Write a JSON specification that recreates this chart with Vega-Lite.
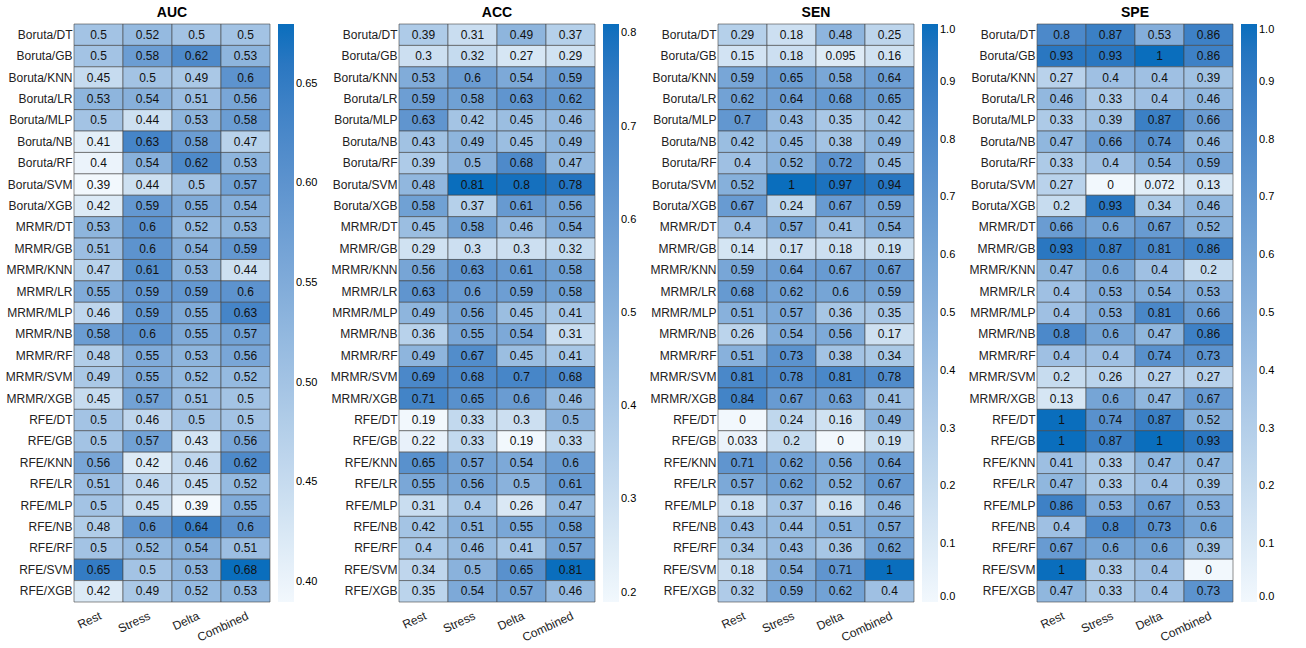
{
  "$schema": "https://vega.github.io/schema/vega-lite/v6.json",
  "padding": {"left": 5, "top": 5, "right": 5, "bottom": 0},
  "config": {
    "font": "Liberation Sans",
    "view": {"stroke": null},
    "axis": {"labelFontSize": 12, "labelColor": "#222", "domain": false, "ticks": false, "title": null},
    "title": {"fontSize": 14, "fontWeight": "bold", "offset": 4},
    "legend": {"gradientLength": 578, "gradientThickness": 16, "labelFontSize": 11, "title": null, "offset": 8, "gradientStrokeColor": "#555", "format": "~g"},
    "concat": {"spacing": 12}
  },
  "datasets": {
    "t": [
      {"model":"Boruta/DT","f":"Rest","AUC":0.5,"ACC":0.39,"SEN":0.29,"SPE":0.8},
      {"model":"Boruta/DT","f":"Stress","AUC":0.52,"ACC":0.31,"SEN":0.18,"SPE":0.87},
      {"model":"Boruta/DT","f":"Delta","AUC":0.5,"ACC":0.49,"SEN":0.48,"SPE":0.53},
      {"model":"Boruta/DT","f":"Combined","AUC":0.5,"ACC":0.37,"SEN":0.25,"SPE":0.86},
      {"model":"Boruta/GB","f":"Rest","AUC":0.5,"ACC":0.3,"SEN":0.15,"SPE":0.93},
      {"model":"Boruta/GB","f":"Stress","AUC":0.58,"ACC":0.32,"SEN":0.18,"SPE":0.93},
      {"model":"Boruta/GB","f":"Delta","AUC":0.62,"ACC":0.27,"SEN":0.095,"SPE":1},
      {"model":"Boruta/GB","f":"Combined","AUC":0.53,"ACC":0.29,"SEN":0.16,"SPE":0.86},
      {"model":"Boruta/KNN","f":"Rest","AUC":0.45,"ACC":0.53,"SEN":0.59,"SPE":0.27},
      {"model":"Boruta/KNN","f":"Stress","AUC":0.5,"ACC":0.6,"SEN":0.65,"SPE":0.4},
      {"model":"Boruta/KNN","f":"Delta","AUC":0.49,"ACC":0.54,"SEN":0.58,"SPE":0.4},
      {"model":"Boruta/KNN","f":"Combined","AUC":0.6,"ACC":0.59,"SEN":0.64,"SPE":0.39},
      {"model":"Boruta/LR","f":"Rest","AUC":0.53,"ACC":0.59,"SEN":0.62,"SPE":0.46},
      {"model":"Boruta/LR","f":"Stress","AUC":0.54,"ACC":0.58,"SEN":0.64,"SPE":0.33},
      {"model":"Boruta/LR","f":"Delta","AUC":0.51,"ACC":0.63,"SEN":0.68,"SPE":0.4},
      {"model":"Boruta/LR","f":"Combined","AUC":0.56,"ACC":0.62,"SEN":0.65,"SPE":0.46},
      {"model":"Boruta/MLP","f":"Rest","AUC":0.5,"ACC":0.63,"SEN":0.7,"SPE":0.33},
      {"model":"Boruta/MLP","f":"Stress","AUC":0.44,"ACC":0.42,"SEN":0.43,"SPE":0.39},
      {"model":"Boruta/MLP","f":"Delta","AUC":0.53,"ACC":0.45,"SEN":0.35,"SPE":0.87},
      {"model":"Boruta/MLP","f":"Combined","AUC":0.58,"ACC":0.46,"SEN":0.42,"SPE":0.66},
      {"model":"Boruta/NB","f":"Rest","AUC":0.41,"ACC":0.43,"SEN":0.42,"SPE":0.47},
      {"model":"Boruta/NB","f":"Stress","AUC":0.63,"ACC":0.49,"SEN":0.45,"SPE":0.66},
      {"model":"Boruta/NB","f":"Delta","AUC":0.58,"ACC":0.45,"SEN":0.38,"SPE":0.74},
      {"model":"Boruta/NB","f":"Combined","AUC":0.47,"ACC":0.49,"SEN":0.49,"SPE":0.46},
      {"model":"Boruta/RF","f":"Rest","AUC":0.4,"ACC":0.39,"SEN":0.4,"SPE":0.33},
      {"model":"Boruta/RF","f":"Stress","AUC":0.54,"ACC":0.5,"SEN":0.52,"SPE":0.4},
      {"model":"Boruta/RF","f":"Delta","AUC":0.62,"ACC":0.68,"SEN":0.72,"SPE":0.54},
      {"model":"Boruta/RF","f":"Combined","AUC":0.53,"ACC":0.47,"SEN":0.45,"SPE":0.59},
      {"model":"Boruta/SVM","f":"Rest","AUC":0.39,"ACC":0.48,"SEN":0.52,"SPE":0.27},
      {"model":"Boruta/SVM","f":"Stress","AUC":0.44,"ACC":0.81,"SEN":1,"SPE":0},
      {"model":"Boruta/SVM","f":"Delta","AUC":0.5,"ACC":0.8,"SEN":0.97,"SPE":0.072},
      {"model":"Boruta/SVM","f":"Combined","AUC":0.57,"ACC":0.78,"SEN":0.94,"SPE":0.13},
      {"model":"Boruta/XGB","f":"Rest","AUC":0.42,"ACC":0.58,"SEN":0.67,"SPE":0.2},
      {"model":"Boruta/XGB","f":"Stress","AUC":0.59,"ACC":0.37,"SEN":0.24,"SPE":0.93},
      {"model":"Boruta/XGB","f":"Delta","AUC":0.55,"ACC":0.61,"SEN":0.67,"SPE":0.34},
      {"model":"Boruta/XGB","f":"Combined","AUC":0.54,"ACC":0.56,"SEN":0.59,"SPE":0.46},
      {"model":"MRMR/DT","f":"Rest","AUC":0.53,"ACC":0.45,"SEN":0.4,"SPE":0.66},
      {"model":"MRMR/DT","f":"Stress","AUC":0.6,"ACC":0.58,"SEN":0.57,"SPE":0.6},
      {"model":"MRMR/DT","f":"Delta","AUC":0.52,"ACC":0.46,"SEN":0.41,"SPE":0.67},
      {"model":"MRMR/DT","f":"Combined","AUC":0.53,"ACC":0.54,"SEN":0.54,"SPE":0.52},
      {"model":"MRMR/GB","f":"Rest","AUC":0.51,"ACC":0.29,"SEN":0.14,"SPE":0.93},
      {"model":"MRMR/GB","f":"Stress","AUC":0.6,"ACC":0.3,"SEN":0.17,"SPE":0.87},
      {"model":"MRMR/GB","f":"Delta","AUC":0.54,"ACC":0.3,"SEN":0.18,"SPE":0.81},
      {"model":"MRMR/GB","f":"Combined","AUC":0.59,"ACC":0.32,"SEN":0.19,"SPE":0.86},
      {"model":"MRMR/KNN","f":"Rest","AUC":0.47,"ACC":0.56,"SEN":0.59,"SPE":0.47},
      {"model":"MRMR/KNN","f":"Stress","AUC":0.61,"ACC":0.63,"SEN":0.64,"SPE":0.6},
      {"model":"MRMR/KNN","f":"Delta","AUC":0.53,"ACC":0.61,"SEN":0.67,"SPE":0.4},
      {"model":"MRMR/KNN","f":"Combined","AUC":0.44,"ACC":0.58,"SEN":0.67,"SPE":0.2},
      {"model":"MRMR/LR","f":"Rest","AUC":0.55,"ACC":0.63,"SEN":0.68,"SPE":0.4},
      {"model":"MRMR/LR","f":"Stress","AUC":0.59,"ACC":0.6,"SEN":0.62,"SPE":0.53},
      {"model":"MRMR/LR","f":"Delta","AUC":0.59,"ACC":0.59,"SEN":0.6,"SPE":0.54},
      {"model":"MRMR/LR","f":"Combined","AUC":0.6,"ACC":0.58,"SEN":0.59,"SPE":0.53},
      {"model":"MRMR/MLP","f":"Rest","AUC":0.46,"ACC":0.49,"SEN":0.51,"SPE":0.4},
      {"model":"MRMR/MLP","f":"Stress","AUC":0.59,"ACC":0.56,"SEN":0.57,"SPE":0.53},
      {"model":"MRMR/MLP","f":"Delta","AUC":0.55,"ACC":0.45,"SEN":0.36,"SPE":0.81},
      {"model":"MRMR/MLP","f":"Combined","AUC":0.63,"ACC":0.41,"SEN":0.35,"SPE":0.66},
      {"model":"MRMR/NB","f":"Rest","AUC":0.58,"ACC":0.36,"SEN":0.26,"SPE":0.8},
      {"model":"MRMR/NB","f":"Stress","AUC":0.6,"ACC":0.55,"SEN":0.54,"SPE":0.6},
      {"model":"MRMR/NB","f":"Delta","AUC":0.55,"ACC":0.54,"SEN":0.56,"SPE":0.47},
      {"model":"MRMR/NB","f":"Combined","AUC":0.57,"ACC":0.31,"SEN":0.17,"SPE":0.86},
      {"model":"MRMR/RF","f":"Rest","AUC":0.48,"ACC":0.49,"SEN":0.51,"SPE":0.4},
      {"model":"MRMR/RF","f":"Stress","AUC":0.55,"ACC":0.67,"SEN":0.73,"SPE":0.4},
      {"model":"MRMR/RF","f":"Delta","AUC":0.53,"ACC":0.45,"SEN":0.38,"SPE":0.74},
      {"model":"MRMR/RF","f":"Combined","AUC":0.56,"ACC":0.41,"SEN":0.34,"SPE":0.73},
      {"model":"MRMR/SVM","f":"Rest","AUC":0.49,"ACC":0.69,"SEN":0.81,"SPE":0.2},
      {"model":"MRMR/SVM","f":"Stress","AUC":0.55,"ACC":0.68,"SEN":0.78,"SPE":0.26},
      {"model":"MRMR/SVM","f":"Delta","AUC":0.52,"ACC":0.7,"SEN":0.81,"SPE":0.27},
      {"model":"MRMR/SVM","f":"Combined","AUC":0.52,"ACC":0.68,"SEN":0.78,"SPE":0.27},
      {"model":"MRMR/XGB","f":"Rest","AUC":0.45,"ACC":0.71,"SEN":0.84,"SPE":0.13},
      {"model":"MRMR/XGB","f":"Stress","AUC":0.57,"ACC":0.65,"SEN":0.67,"SPE":0.6},
      {"model":"MRMR/XGB","f":"Delta","AUC":0.51,"ACC":0.6,"SEN":0.63,"SPE":0.47},
      {"model":"MRMR/XGB","f":"Combined","AUC":0.5,"ACC":0.46,"SEN":0.41,"SPE":0.67},
      {"model":"RFE/DT","f":"Rest","AUC":0.5,"ACC":0.19,"SEN":0,"SPE":1},
      {"model":"RFE/DT","f":"Stress","AUC":0.46,"ACC":0.33,"SEN":0.24,"SPE":0.74},
      {"model":"RFE/DT","f":"Delta","AUC":0.5,"ACC":0.3,"SEN":0.16,"SPE":0.87},
      {"model":"RFE/DT","f":"Combined","AUC":0.5,"ACC":0.5,"SEN":0.49,"SPE":0.52},
      {"model":"RFE/GB","f":"Rest","AUC":0.5,"ACC":0.22,"SEN":0.033,"SPE":1},
      {"model":"RFE/GB","f":"Stress","AUC":0.57,"ACC":0.33,"SEN":0.2,"SPE":0.87},
      {"model":"RFE/GB","f":"Delta","AUC":0.43,"ACC":0.19,"SEN":0,"SPE":1},
      {"model":"RFE/GB","f":"Combined","AUC":0.56,"ACC":0.33,"SEN":0.19,"SPE":0.93},
      {"model":"RFE/KNN","f":"Rest","AUC":0.56,"ACC":0.65,"SEN":0.71,"SPE":0.41},
      {"model":"RFE/KNN","f":"Stress","AUC":0.42,"ACC":0.57,"SEN":0.62,"SPE":0.33},
      {"model":"RFE/KNN","f":"Delta","AUC":0.46,"ACC":0.54,"SEN":0.56,"SPE":0.47},
      {"model":"RFE/KNN","f":"Combined","AUC":0.62,"ACC":0.6,"SEN":0.64,"SPE":0.47},
      {"model":"RFE/LR","f":"Rest","AUC":0.51,"ACC":0.55,"SEN":0.57,"SPE":0.47},
      {"model":"RFE/LR","f":"Stress","AUC":0.46,"ACC":0.56,"SEN":0.62,"SPE":0.33},
      {"model":"RFE/LR","f":"Delta","AUC":0.45,"ACC":0.5,"SEN":0.52,"SPE":0.4},
      {"model":"RFE/LR","f":"Combined","AUC":0.52,"ACC":0.61,"SEN":0.67,"SPE":0.39},
      {"model":"RFE/MLP","f":"Rest","AUC":0.5,"ACC":0.31,"SEN":0.18,"SPE":0.86},
      {"model":"RFE/MLP","f":"Stress","AUC":0.45,"ACC":0.4,"SEN":0.37,"SPE":0.53},
      {"model":"RFE/MLP","f":"Delta","AUC":0.39,"ACC":0.26,"SEN":0.16,"SPE":0.67},
      {"model":"RFE/MLP","f":"Combined","AUC":0.55,"ACC":0.47,"SEN":0.46,"SPE":0.53},
      {"model":"RFE/NB","f":"Rest","AUC":0.48,"ACC":0.42,"SEN":0.43,"SPE":0.4},
      {"model":"RFE/NB","f":"Stress","AUC":0.6,"ACC":0.51,"SEN":0.44,"SPE":0.8},
      {"model":"RFE/NB","f":"Delta","AUC":0.64,"ACC":0.55,"SEN":0.51,"SPE":0.73},
      {"model":"RFE/NB","f":"Combined","AUC":0.6,"ACC":0.58,"SEN":0.57,"SPE":0.6},
      {"model":"RFE/RF","f":"Rest","AUC":0.5,"ACC":0.4,"SEN":0.34,"SPE":0.67},
      {"model":"RFE/RF","f":"Stress","AUC":0.52,"ACC":0.46,"SEN":0.43,"SPE":0.6},
      {"model":"RFE/RF","f":"Delta","AUC":0.54,"ACC":0.41,"SEN":0.36,"SPE":0.6},
      {"model":"RFE/RF","f":"Combined","AUC":0.51,"ACC":0.57,"SEN":0.62,"SPE":0.39},
      {"model":"RFE/SVM","f":"Rest","AUC":0.65,"ACC":0.34,"SEN":0.18,"SPE":1},
      {"model":"RFE/SVM","f":"Stress","AUC":0.5,"ACC":0.5,"SEN":0.54,"SPE":0.33},
      {"model":"RFE/SVM","f":"Delta","AUC":0.53,"ACC":0.65,"SEN":0.71,"SPE":0.4},
      {"model":"RFE/SVM","f":"Combined","AUC":0.68,"ACC":0.81,"SEN":1,"SPE":0},
      {"model":"RFE/XGB","f":"Rest","AUC":0.42,"ACC":0.35,"SEN":0.32,"SPE":0.47},
      {"model":"RFE/XGB","f":"Stress","AUC":0.49,"ACC":0.54,"SEN":0.59,"SPE":0.33},
      {"model":"RFE/XGB","f":"Delta","AUC":0.52,"ACC":0.57,"SEN":0.62,"SPE":0.4},
      {"model":"RFE/XGB","f":"Combined","AUC":0.53,"ACC":0.46,"SEN":0.4,"SPE":0.73}
    ]
  },
  "data": {"name": "t"},
  "resolve": {"scale": {"color": "independent"}},
  "hconcat": [
    {
      "title": "AUC", "width": 196, "height": 578,
      "encoding": {
        "x": {"field": "f", "type": "nominal", "sort": ["Rest","Stress","Delta","Combined"], "axis": {"labelAngle": -25, "labelAlign": "right", "labelPadding": 8}},
        "y": {"field": "model", "type": "nominal", "sort": null}
      },
      "layer": [
        {"mark": {"type": "rect", "stroke": "#444", "strokeWidth": 0.6}, "encoding": {"color": {"field": "AUC", "type": "quantitative", "scale": {"range": ["#f2f8fd", "#0a6ebd"]}, "legend": {"tickCount": 7}}}},
        {"mark": {"type": "text", "fontSize": 12, "color": "#111"}, "encoding": {"text": {"field": "AUC", "type": "nominal"}}}
      ]
    },
    {
      "title": "ACC", "width": 196, "height": 578,
      "encoding": {
        "x": {"field": "f", "type": "nominal", "sort": ["Rest","Stress","Delta","Combined"], "axis": {"labelAngle": -25, "labelAlign": "right", "labelPadding": 8}},
        "y": {"field": "model", "type": "nominal", "sort": null}
      },
      "layer": [
        {"mark": {"type": "rect", "stroke": "#444", "strokeWidth": 0.6}, "encoding": {"color": {"field": "ACC", "type": "quantitative", "scale": {"range": ["#f2f8fd", "#0a6ebd"]}, "legend": {"tickCount": 7}}}},
        {"mark": {"type": "text", "fontSize": 12, "color": "#111"}, "encoding": {"text": {"field": "ACC", "type": "nominal"}}}
      ]
    },
    {
      "title": "SEN", "width": 196, "height": 578,
      "encoding": {
        "x": {"field": "f", "type": "nominal", "sort": ["Rest","Stress","Delta","Combined"], "axis": {"labelAngle": -25, "labelAlign": "right", "labelPadding": 8}},
        "y": {"field": "model", "type": "nominal", "sort": null}
      },
      "layer": [
        {"mark": {"type": "rect", "stroke": "#444", "strokeWidth": 0.6}, "encoding": {"color": {"field": "SEN", "type": "quantitative", "scale": {"range": ["#f2f8fd", "#0a6ebd"]}, "legend": {"tickCount": 10}}}},
        {"mark": {"type": "text", "fontSize": 12, "color": "#111"}, "encoding": {"text": {"field": "SEN", "type": "nominal"}}}
      ]
    },
    {
      "title": "SPE", "width": 196, "height": 578,
      "encoding": {
        "x": {"field": "f", "type": "nominal", "sort": ["Rest","Stress","Delta","Combined"], "axis": {"labelAngle": -25, "labelAlign": "right", "labelPadding": 8}},
        "y": {"field": "model", "type": "nominal", "sort": null}
      },
      "layer": [
        {"mark": {"type": "rect", "stroke": "#444", "strokeWidth": 0.6}, "encoding": {"color": {"field": "SPE", "type": "quantitative", "scale": {"range": ["#f2f8fd", "#0a6ebd"]}, "legend": {"tickCount": 10}}}},
        {"mark": {"type": "text", "fontSize": 12, "color": "#111"}, "encoding": {"text": {"field": "SPE", "type": "nominal"}}}
      ]
    }
  ]
}
